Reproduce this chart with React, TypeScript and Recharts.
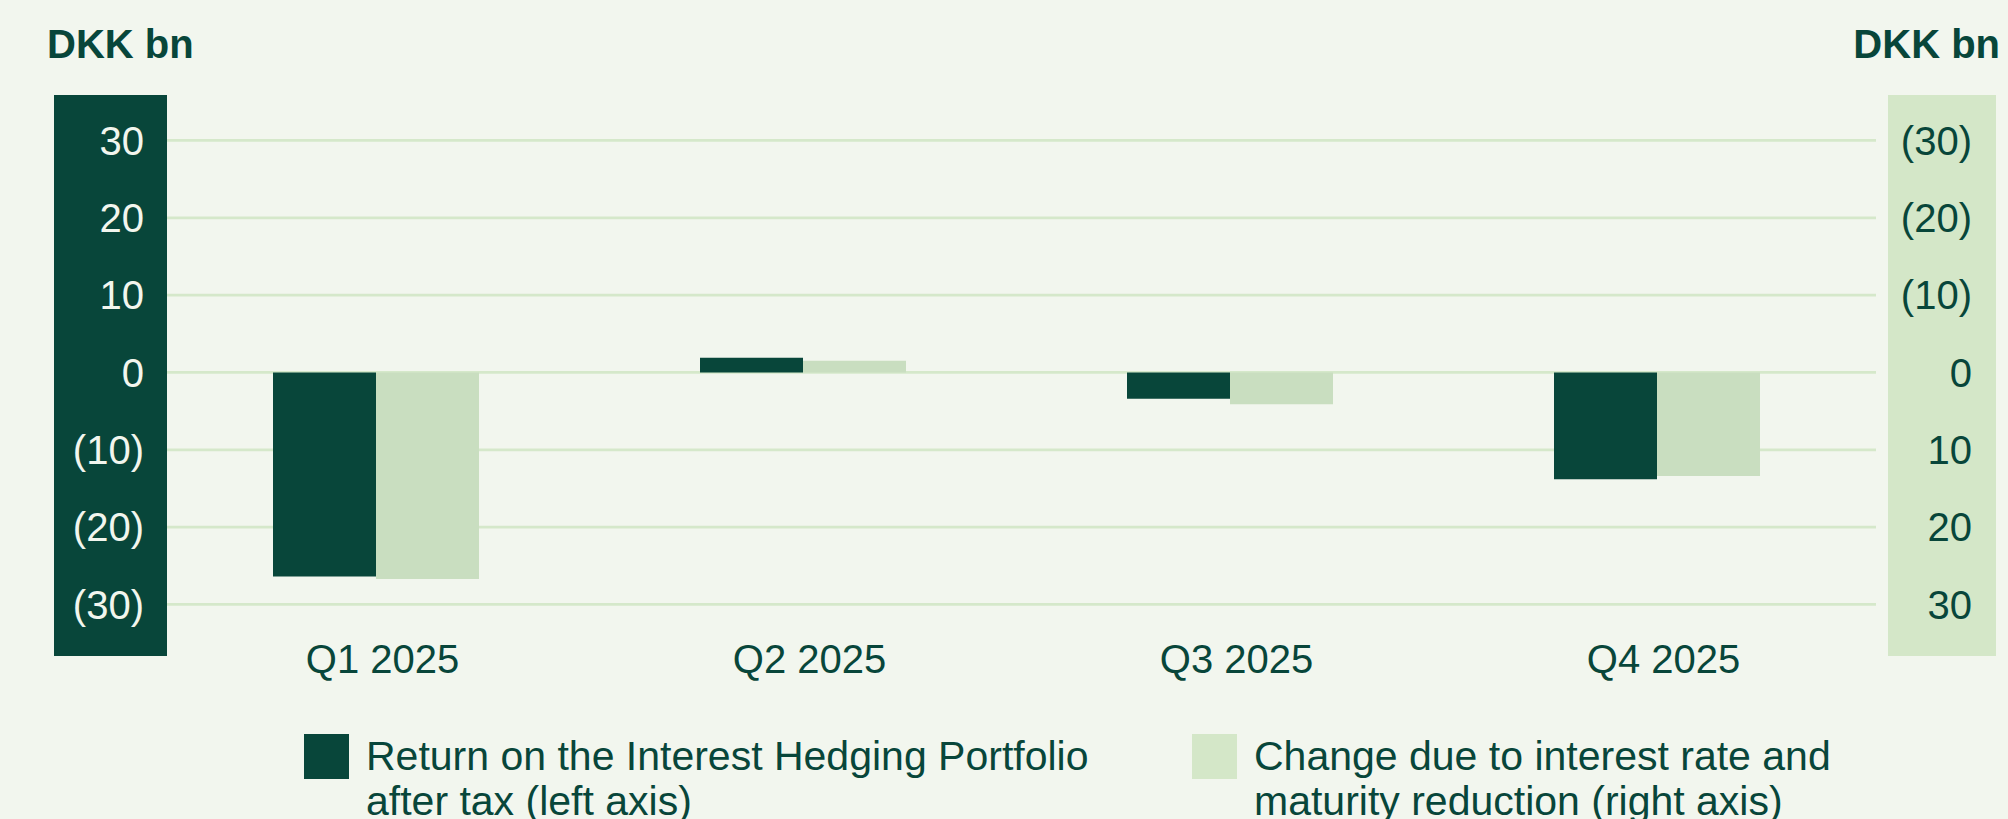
import { BarChart, Bar, XAxis, YAxis, CartesianGrid } from "recharts";

const categories = ["Q1 2025", "Q2 2025", "Q3 2025", "Q4 2025"];
// left axis: return on the interest hedging portfolio after tax
const hedgingReturn = [-26.4, 1.9, -3.4, -13.8];
// right axis (reversed): change due to interest rate and maturity reduction
const rateChange = [26.7, -1.5, 4.1, 13.4];
const yTicks = [-30, -20, -10, 0, 10, 20, 30];

const DARK = "#08463a";
const LIGHT_BAR = "#c9dec0";
const LIGHT_BOX = "#d4e7c8";
const GRID = "#d5e8ca";
const BG = "#f2f6ee";
const FONT = "'Liberation Sans', Arial, sans-serif";

const data = categories.map((name, i) => ({
  name,
  hedging: hedgingReturn[i],
  rate: rateChange[i],
}));

// brackets for negatives, e.g. (30)
const fmt = (v: number) => (v < 0 ? `(${-v})` : `${v}`);

// right axis labels are right-aligned inside the pale box
function RightTick(props: any) {
  const { x, y, payload } = props;
  return (
    <text x={x + 96} y={y} dy="0.355em" textAnchor="end" fill={DARK} fontSize={40} fontFamily={FONT}>
      {fmt(payload.value)}
    </text>
  );
}

function LegendItem({ color, lines, left }: { color: string; lines: string[]; left: number }) {
  return (
    <>
      <div style={{ position: "absolute", left, top: 734, width: 45, height: 45, background: color }} />
      <div
        style={{
          position: "absolute", left: left + 62, top: 734,
          fontSize: 41, lineHeight: "45px", color: DARK, whiteSpace: "nowrap",
        }}
      >
        {lines.map((l) => <div key={l}>{l}</div>)}
      </div>
    </>
  );
}

export default function App() {
  return (
    <div
      style={{
        position: "absolute", left: 0, top: 0, width: 2008, height: 819,
        background: BG, fontFamily: FONT, overflow: "hidden",
      }}
    >
      {/* axis boxes */}
      <div style={{ position: "absolute", left: 54, top: 95, width: 113, height: 561, background: DARK }} />
      <div style={{ position: "absolute", left: 1888, top: 95, width: 108, height: 561, background: LIGHT_BOX }} />

      {/* axis units */}
      <div style={{ position: "absolute", left: 47, top: 24, fontSize: 40, lineHeight: "40px", fontWeight: 700, color: DARK }}>
        DKK bn
      </div>
      <div style={{ position: "absolute", right: 8, top: 24, fontSize: 40, lineHeight: "40px", fontWeight: 700, color: DARK }}>
        DKK bn
      </div>

      <div style={{ position: "absolute", left: 0, top: 0 }}>
        <BarChart
          width={2008}
          height={720}
          data={data}
          margin={{ top: 101.8, right: 12, left: 54, bottom: 16.9 }}
          barGap={0}
          barSize={103}
        >
          <CartesianGrid
            vertical={false}
            yAxisId="left"
            horizontalValues={yTicks}
            x={167}
            width={1709}
            stroke={GRID}
            strokeWidth={2.7}
          />
          <XAxis
            dataKey="name"
            axisLine={false}
            tickLine={false}
            tickSize={0}
            tickMargin={1}
            height={60}
            interval={0}
            padding={{ left: 0, right: 6 }}
            tick={{ fill: DARK, fontSize: 40, fontFamily: FONT, dx: 7 }}
          />
          <YAxis
            yAxisId="left"
            orientation="left"
            width={108}
            domain={[-35, 35]}
            ticks={yTicks}
            tickFormatter={fmt}
            axisLine={false}
            tickLine={false}
            tickSize={0}
            tickMargin={18}
            tick={{ fill: BG, fontSize: 40, fontFamily: FONT }}
          />
          <YAxis
            yAxisId="right"
            orientation="right"
            width={120}
            domain={[-35, 35]}
            reversed
            ticks={yTicks}
            axisLine={false}
            tickLine={false}
            tickSize={0}
            tickMargin={0}
            tick={<RightTick />}
          />
          <Bar yAxisId="left" dataKey="hedging" fill={DARK} isAnimationActive={false} />
          <Bar yAxisId="right" dataKey="rate" fill={LIGHT_BAR} isAnimationActive={false} />
        </BarChart>
      </div>

      <LegendItem color={DARK} left={304} lines={["Return on the Interest Hedging Portfolio", "after tax (left axis)"]} />
      <LegendItem color={LIGHT_BOX} left={1192} lines={["Change due to interest rate and", "maturity reduction (right axis)"]} />
    </div>
  );
}
